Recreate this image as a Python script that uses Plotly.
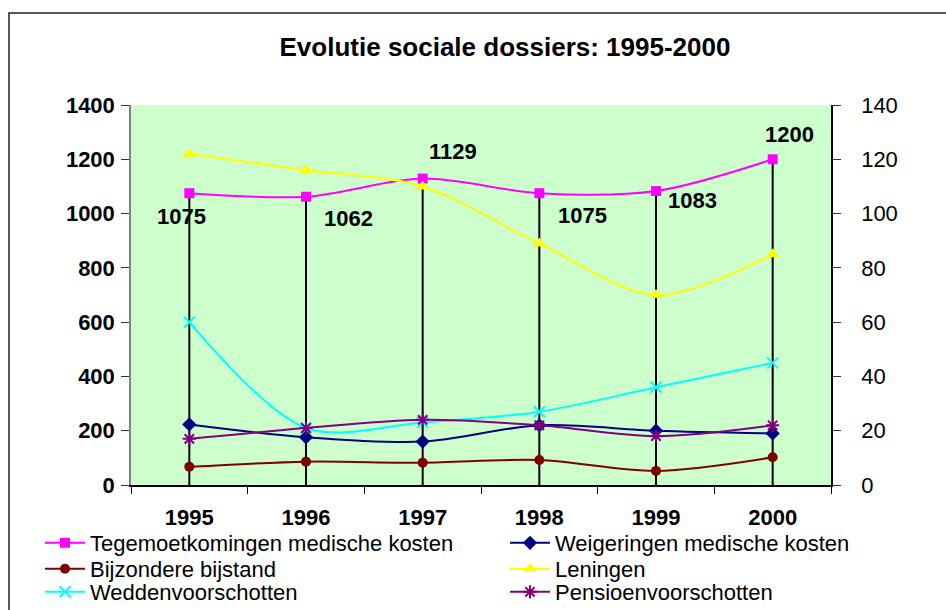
import plotly.graph_objects as go

# ---- data ----
years = ["1995", "1996", "1997", "1998", "1999", "2000"]
tegemoetkomingen = [1075, 1062, 1129, 1075, 1083, 1200]   # left axis
weigeringen = [22.3, 17.6, 16.0, 22.0, 20.0, 19.0]         # right axis
bijzondere = [6.7, 8.6, 8.2, 9.2, 5.2, 10.2]               # right axis
leningen = [122, 116, 110, 89, 70, 85]                     # right axis
wedden = [60, 21, 23, 27, 36, 45]                          # right axis
pensioen = [17, 21, 24, 22, 18, 22]                        # right axis
left_ticks = [0, 200, 400, 600, 800, 1000, 1200, 1400]
right_ticks = [0, 20, 40, 60, 80, 100, 120, 140]
title_text = "Evolutie sociale dossiers: 1995-2000"

# ---- layout helpers (pixels) ----
W, H = 946, 610
PL, PR, PT, PB = 131, 831, 105, 485
pw, ph = PR - PL, PB - PT
def px_x(p): return (p - PL) / pw
def px_y(p): return (PB - p) / ph

FONT = "Liberation Sans, Arial, sans-serif"
label_offsets = [(-8, -23), (42, -22), (30, 27), (43, -22), (36, -9), (17, 25)]

fig = go.Figure()

series = [
    ("Tegemoetkomingen medische kosten", tegemoetkomingen, "#FF00FF", "square", 10, "y", "legend"),
    ("Weigeringen medische kosten", weigeringen, "#000080", "diamond", 11, "y2", "legend2"),
    ("Bijzondere bijstand", bijzondere, "#800000", "circle", 10, "y2", "legend3"),
    ("Leningen", leningen, "#FFFF00", "triangle-up", 12, "y2", "legend4"),
    ("Weddenvoorschotten", wedden, "#00FFFF", "x-thin-open", 11, "y2", "legend5"),
    ("Pensioenvoorschotten", pensioen, "#800080", "asterisk-open", 11, "y2", "legend6"),
]

for name, vals, col, sym, size, ax, lg in series:
    kw = {}
    if ax == "y":
        kw["error_y"] = dict(type="data", symmetric=False, array=[0] * len(vals),
                             arrayminus=vals, color="black", thickness=2, width=0)
    open_sym = sym.endswith("-open")
    fig.add_trace(go.Scatter(
        x=years, y=vals, name=name, yaxis=ax, legend=lg,
        mode="lines+markers",
        line=dict(color=col, width=2, shape="spline", smoothing=0.9),
        marker=dict(symbol=sym, size=size, color=col,
                    line=dict(color=col, width=2 if open_sym else 0)),
        **kw,
    ))

# data labels for the main series (x as category index)
for i, (v, (dx, dy)) in enumerate(zip(tegemoetkomingen, label_offsets)):
    fig.add_annotation(x=i, y=v, xref="x", yref="y", text=f"<b>{v}</b>", showarrow=False,
                       xshift=dx, yshift=dy,
                       font=dict(family=FONT, size=22, color="black"))

# legends: one per entry, two columns x three rows
rows_y = [543, 569, 592]
cols_x = [40, 505]
legend_layout = {}
for i in range(6):
    key = "legend" if i == 0 else f"legend{i+1}"
    r, c = divmod(i, 2)
    legend_layout[key] = dict(
        x=px_x(cols_x[c]), y=px_y(rows_y[r]), xanchor="left", yanchor="middle",
        xref="paper", yref="paper", orientation="h", itemwidth=40,
        bgcolor="rgba(0,0,0,0)", borderwidth=0,
        font=dict(family=FONT, size=22, color="black"),
    )

fig.update_layout(
    width=W, height=H,
    margin=dict(l=PL, r=W - PR, t=PT, b=H - PB, autoexpand=False),
    paper_bgcolor="white", plot_bgcolor="#CCFFCC",
    title=dict(text=f"<b>{title_text}</b>", x=505 / W, xanchor="center",
               y=1 - 47 / H, yanchor="middle",
               font=dict(family=FONT, size=26, color="black")),
    xaxis=dict(type="category", range=[-0.5, 5.5], showline=True, linecolor="black", linewidth=1.5,
               ticks="outside", ticklen=7, tickcolor="black", tickwidth=1, tickson="boundaries",
               ticklabelstandoff=12, showgrid=False, zeroline=False,
               tickfont=dict(family=FONT, size=22, color="black", weight="bold")),
    yaxis=dict(range=[0, 1400], tickvals=left_ticks, showline=True, linecolor="#808080", linewidth=1.5,
               ticks="outside", ticklen=8, tickcolor="#333333", tickwidth=1,
               ticklabelstandoff=2, showgrid=False, zeroline=False,
               tickfont=dict(family=FONT, size=22, color="black", weight="bold")),
    yaxis2=dict(range=[0, 140], tickvals=right_ticks, overlaying="y", side="right",
                showline=True, linecolor="black", linewidth=1.5,
                ticks="outside", ticklen=8, tickcolor="#333333", tickwidth=1,
                ticklabelstandoff=16, showgrid=False, zeroline=False,
                tickfont=dict(family=FONT, size=22, color="black")),
    showlegend=True,
    hovermode=False,
    **legend_layout,
)

# outer chart border (extends beyond the visible page on right/bottom)
fig.add_shape(type="rect", xref="paper", yref="paper",
              x0=px_x(9), x1=px_x(960), y0=px_y(625), y1=px_y(13),
              line=dict(color="#222222", width=1.5), fillcolor="rgba(0,0,0,0)", layer="above")

fig.write_html("out.html", config={"displayModeBar": False},
               post_script="document.body.style.margin='0';")
